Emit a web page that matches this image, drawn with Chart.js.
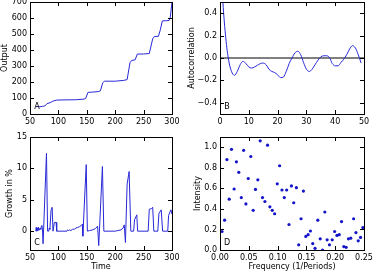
<!DOCTYPE html>
<html>
<head>
<meta charset="utf-8">
<script src="https://cdn.jsdelivr.net/npm/chart.js@4/dist/chart.umd.min.js"></script>
<style>
  html, body { margin: 0; padding: 0; background: #fff; width: 373px; height: 273px; overflow: hidden; position: relative; }
  canvas { position: absolute; }
</style>
</head>
<body>
<canvas id="panelA" width="186" height="138" style="left:0;top:-10px;width:186px;height:138px"></canvas>
<canvas id="panelB" width="200" height="138" style="left:186px;top:-10px;width:200px;height:138px"></canvas>
<canvas id="panelC" width="186" height="146" style="left:0;top:127px;width:186px;height:146px"></canvas>
<canvas id="panelD" width="200" height="146" style="left:186px;top:127px;width:200px;height:146px"></canvas>
<script>
// A: output over time
const outputTime = [60, 63, 66, 72, 76, 80, 85, 90, 97, 110, 130, 145, 148, 152, 160, 170, 174, 178, 181, 200, 215, 221, 226, 229, 235, 239, 250, 260, 266, 269, 276, 279, 283, 290, 295, 297, 300];
const outputValue = [45, 47, 45, 48, 50, 65, 70, 80, 87, 88, 89, 93, 97, 135, 137, 140, 145, 195, 205, 205, 210, 215, 320, 335, 338, 375, 375, 378, 470, 485, 485, 520, 582, 583, 585, 605, 700];

// B: autocorrelation by lag
const acfLag = [0, 1, 2, 3, 4, 5, 6, 7, 8, 9, 10, 11, 12, 13, 14, 15, 16, 17, 18, 19, 20, 21, 22, 23, 24,
  25, 26, 27, 28, 29, 30, 31, 32, 33, 34, 35, 36, 37, 38, 39, 40, 41, 42, 43, 44, 45, 46, 47, 48, 49];
const acfValue = [1.0, 0.50, 0.18, -0.02, -0.12, -0.155, -0.12, -0.06, -0.03, -0.05, -0.08, -0.09, -0.08, -0.065, -0.05,
  -0.045, -0.06, -0.10, -0.12, -0.13, -0.15, -0.175, -0.17, -0.12, -0.05, 0.0, 0.045, 0.06, 0.03, -0.04,
  -0.10, -0.12, -0.10, -0.06, -0.02, 0.01, 0.02, 0.02, 0.005, -0.05, -0.07, -0.07, -0.04, -0.01, 0.03,
  0.08, 0.11, 0.09, 0.03, -0.045];

// C: growth in %
const growthTime = [60, 61, 62, 63, 64, 65, 66, 67, 68, 69, 70, 71, 72, 73, 79, 81, 83, 84, 85, 87, 89, 90.5, 92, 93, 96, 97,
  115, 116, 118, 120, 122, 125, 128, 131, 134, 137, 140, 142, 143, 149, 151, 155, 160, 165, 169, 171, 177.5, 180,
  200, 205, 210, 214, 216, 218, 221, 224.5, 227.5, 232.5, 234, 238, 239.5, 258, 260, 264, 266, 268,
  275, 277, 281, 283.5, 292.5, 294, 298, 300];
const growthValue = [0, 0.6, 0, 0.5, 0.1, 0.6, 0.2, 0.4, 0.5, 0.3, 0.8, 0.9, 0.2, -2.0, 12.4, 0, 0, 0.5, 0.3, 3.3, 3.8, 0, 0, 1.4, 1.4, 0,
  0, 0.2, 0.1, 0.2, 0.1, 0.3, 0.3, 0.5, 0.6, 0.7, 0.9, 1.1, -0.8, 10.6, 0, 0.1, 0.2, 0.4, 0.8, -2.3, 10.3, 0,
  0, 0.1, 0.2, 0.5, 1.0, -1.8, 7.5, 9.5, 0, 0, 1.8, 2.6, 0, 0, 3.5, 3.6, 3.8, 0,
  0, 2.8, 3.4, 0, 0, 2.5, 3.4, 2.7];

// D: spectrum
const frequency = [0.0035, 0.008, 0.012, 0.016, 0.020, 0.0245, 0.0285, 0.0326, 0.037, 0.041, 0.045, 0.049, 0.0535, 0.0576,
  0.0616, 0.0657, 0.0698, 0.0738, 0.078, 0.0826, 0.0866, 0.0907, 0.0948, 0.0994, 0.1035, 0.1076, 0.1116, 0.1157,
  0.1198, 0.124, 0.128, 0.1326, 0.1366, 0.1407, 0.1448, 0.149, 0.153, 0.157, 0.161, 0.165, 0.1698, 0.174, 0.178,
  0.182, 0.186, 0.190, 0.1948, 0.199, 0.203, 0.207, 0.211, 0.215, 0.219, 0.223, 0.227, 0.232, 0.236, 0.240, 0.244, 0.248];
const intensity = [0.18, 0.29, 0.88, 0.495, 0.98, 0.594, 0.858, 0.756, 0.51, 0.97, 0.449, 0.696, 0.91, 0.386,
  0.59, 0.683, 1.063, 0.51, 0.472, 1.02, 0.42, 0.386, 0.353, 0.644, 0.82, 0.584, 0.51, 0.584,
  0.248, 0.624, 0.46, 0.607, 0.05, 0.304, 0.574, 0.132, 0.149, 0.185, 0.063, 0.0165, 0.29, 0.109, 0.0,
  0.37, 0.099, 0.05, 0.099, 0.18, 0.142, 0.149, 0.277, 0.033, 0.026, 0.109, 0.115, 0.304, 0.17, 0.089, 0.122, 0.218];

// tick positions
const ticksA = { x: [50, 100, 150, 200, 250, 300], y: [0, 100, 200, 300, 400, 500, 600, 700] };
const ticksB = { x: [0, 10, 20, 30, 40, 50], y: [-0.4, -0.2, 0, 0.2, 0.4] };
const ticksC = { x: [50, 100, 150, 200, 250, 300], y: [0, 5, 10, 15] };
const ticksD = { x: [0, 0.05, 0.1, 0.15, 0.2, 0.25], y: [0, 0.2, 0.4, 0.6, 0.8, 1.0] };

const LINE_BLUE = 'rgb(40,40,215)';

Chart.defaults.font.family = '"DejaVu Sans", sans-serif';
Chart.defaults.font.size = 8;
Chart.defaults.color = '#000';

const toXY = (xs, ys) => xs.map((x, i) => ({ x: x, y: ys[i] }));
const mplNum = (digits) => (v) => {
  const s = Number(v).toFixed(digits);
  return s.startsWith('-') ? '\u2212' + s.slice(1) : s;
};

// matplotlib-like box with inward ticks on every side, plus panel letter
const mplFrame = {
  id: 'mplFrame',
  afterDatasetsDraw(chart, args, opts) {
    const { ctx, chartArea: a, scales } = chart;
    const len = 4;
    ctx.save();
    ctx.strokeStyle = '#000';
    ctx.lineWidth = 1;
    ctx.beginPath();
    scales.x.ticks.forEach(t => {
      const px = Math.round(scales.x.getPixelForValue(t.value)) + 0.5;
      ctx.moveTo(px, a.bottom); ctx.lineTo(px, a.bottom - len);
      ctx.moveTo(px, a.top); ctx.lineTo(px, a.top + len);
    });
    scales.y.ticks.forEach(t => {
      const py = Math.round(scales.y.getPixelForValue(t.value)) + 0.5;
      ctx.moveTo(a.left, py); ctx.lineTo(a.left + len, py);
      ctx.moveTo(a.right, py); ctx.lineTo(a.right - len, py);
    });
    ctx.stroke();
    ctx.strokeRect(Math.round(a.left) + 0.5, Math.round(a.top) + 0.5,
      Math.round(a.right - a.left), Math.round(a.bottom - a.top));
    if (opts.letter) {
      ctx.fillStyle = '#000';
      ctx.font = '8px "DejaVu Sans"';
      ctx.textAlign = 'center';
      ctx.textBaseline = 'middle';
      ctx.fillText(opts.letter, a.left + 7, a.bottom - 7);
    }
    ctx.restore();
  }
};

function axis(min, max, tickValues, fmt, size, isX, title, titlePad) {
  return {
    type: 'linear',
    min: min,
    max: max,
    grid: { display: false, drawTicks: false },
    border: { display: false },
    ticks: { color: '#000', padding: isX ? 3 : 3, autoSkip: false, maxRotation: 0, callback: fmt },
    afterBuildTicks: (s) => { s.ticks = tickValues.map(v => ({ value: v })); },
    afterFit: (s) => { if (isX) s.height = size; else s.width = size; },
    title: { display: !!title, text: title || '', color: '#000', padding: titlePad || 0 }
  };
}

function panel(id, datasets, xAxis, yAxis, padding, letter) {
  return new Chart(document.getElementById(id), {
    type: 'line',
    data: { datasets: datasets },
    options: {
      responsive: false,
      animation: false,
      events: [],
      layout: { padding: padding },
      plugins: { legend: { display: false }, tooltip: { enabled: false }, mplFrame: { letter: letter } },
      scales: { x: xAxis, y: yAxis }
    },
    plugins: [mplFrame]
  });
}

const lineStyle = { borderColor: LINE_BLUE, borderWidth: 1, pointRadius: 0, tension: 0, fill: false };

panel('panelA',
  [Object.assign({ data: toXY(outputTime, outputValue) }, lineStyle)],
  axis(50, 300, ticksA.x, mplNum(0), 14, true),
  axis(0, 700, ticksA.y, mplNum(0), 30, false, 'Output', { top: 0, bottom: 0 }),
  { top: 12, right: 14, left: 0, bottom: 0 }, 'A');

panel('panelB',
  [
    Object.assign({ data: toXY(acfLag, acfValue), cubicInterpolationMode: 'monotone' }, lineStyle),
    { data: toXY([0, 50], [0, 0]), borderColor: '#000', borderWidth: 1, pointRadius: 0 }
  ],
  axis(0, 50, ticksB.x, mplNum(0), 14, true),
  axis(-0.5, 0.5, ticksB.y, mplNum(1), 34, false, 'Autocorrelation', { top: 1, bottom: 0 }),
  { top: 12, right: 22, left: 0, bottom: 0 }, 'B');

panel('panelC',
  [Object.assign({ data: toXY(growthTime, growthValue) }, lineStyle)],
  axis(50, 300, ticksC.x, mplNum(0), 23, true, 'Time', { top: 0, bottom: 1.2 }),
  axis(-3, 15, ticksC.y, mplNum(0), 30, false, 'Growth in %', { top: 5.5, bottom: 0 }),
  { top: 10, right: 14, left: 0, bottom: 0 }, 'C');

panel('panelD',
  [{ data: toXY(frequency, intensity), showLine: false, pointRadius: 1.6, pointBorderWidth: 0,
     pointBackgroundColor: 'rgb(20,20,200)', borderColor: 'rgb(20,20,200)' }],
  axis(0, 0.25, ticksD.x, mplNum(2), 23, true, 'Frequency (1/Periods)', { top: 0, bottom: 1.2 }),
  axis(0, 1.1, ticksD.y, mplNum(1), 34, false, 'Intensity', { top: 7.5, bottom: 0 }),
  { top: 10, right: 22, left: 0, bottom: 0 }, 'D');
</script>
</body>
</html>
